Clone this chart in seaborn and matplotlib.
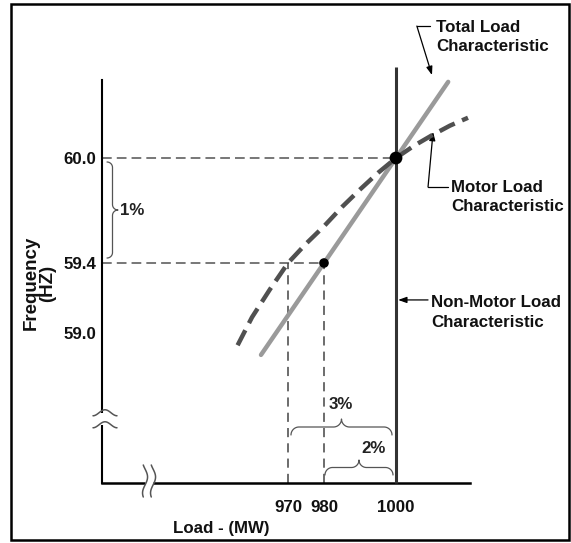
import numpy as np
import matplotlib
matplotlib.use("Agg")
import matplotlib.pyplot as plt
from matplotlib import font_manager
from matplotlib.patches import Rectangle
import seaborn as sns

# Operating points
nominal_load_mw = 1000
nominal_freq_hz = 60.0
reduced_freq_hz = 59.4
total_load_reduced_mw = 980
motor_load_reduced_mw = 970

# Total load characteristic (straight)
total_load_mw = [962.5, 980, 1000, 1014.5]
total_freq_hz = [58.875, 59.4, 60.0, 60.435]

# Motor load characteristic (curved)
motor_load_mw = [956, 960, 965, 970, 975, 980, 985, 990, 995, 1000, 1005, 1010, 1015, 1020]
motor_freq_hz = [58.93, 59.09, 59.25, 59.40, 59.51, 59.61, 59.72, 59.82, 59.915, 60.0,
                 60.07, 60.13, 60.185, 60.23]

x_ticks = [970, 980, 1000]
x_tick_labels = ["970", "980", "1000"]
y_ticks = [59.0, 59.4, 60.0]
y_tick_labels = ["59.0", "59.4", "60.0"]

sns.set_style("white")
available = {f.name for f in font_manager.fontManager.ttflist}
family = next(f for f in ["Liberation Sans Narrow", "Liberation Sans", "DejaVu Sans"]
              if f in available)
plt.rcParams["font.family"] = [family, "DejaVu Sans"]
narrow = family == "Liberation Sans Narrow"
FS = 14.5 if narrow else 12.2
FS_AXIS = 15 if narrow else 13.5

W, H = 571, 543
fig = plt.figure(figsize=(W / 100, H / 100), dpi=100)
fig.patch.set_facecolor("white")
ax = fig.add_axes([102 / W, 60 / H, 368 / W, 416 / H])
XMIN, XMAX = 918.33, 1020.56
YMIN, YMAX = 58.143, 60.52
ax.set_xlim(XMIN, XMAX)
ax.set_ylim(YMIN, YMAX)
ax.autoscale(False)
ax.set_facecolor("white")

for s in ["top", "right"]:
    ax.spines[s].set_visible(False)
ax.spines["left"].set_linewidth(1.5)
ax.spines["bottom"].set_linewidth(1.8)
ax.spines["left"].set_color("black")
ax.spines["bottom"].set_color("black")
ax.spines["left"].set_bounds(YMIN, 60.446)

ax.set_xticks(x_ticks, x_tick_labels)
ax.set_yticks(y_ticks, y_tick_labels)
ax.tick_params(axis="both", length=0, labelsize=FS, labelcolor="#111111")
ax.tick_params(axis="x", pad=12)
ax.tick_params(axis="y", pad=4)
for lbl in ax.get_xticklabels() + ax.get_yticklabels():
    lbl.set_fontweight("bold")

# Reference dashed lines to the operating points
ax.plot([XMIN, nominal_load_mw], [nominal_freq_hz] * 2, color="#777777", lw=1.4,
        dashes=(5, 2.6), zorder=1)
ax.plot([XMIN, total_load_reduced_mw], [reduced_freq_hz] * 2, color="#777777", lw=1.4,
        dashes=(5, 2.6), zorder=1)
ax.plot([motor_load_reduced_mw] * 2, [YMIN, reduced_freq_hz], color="#444444", lw=1.1,
        dashes=(6, 4), zorder=1)
ax.plot([total_load_reduced_mw] * 2, [YMIN, reduced_freq_hz], color="#444444", lw=1.1,
        dashes=(6, 4), zorder=1)

# Non-motor load characteristic: constant load
ax.plot([nominal_load_mw] * 2, [YMIN, YMAX], color="#333333", lw=2.2, zorder=3,
        solid_capstyle="butt", clip_on=False)

# Total and motor load characteristics
sns.lineplot(x=total_load_mw, y=total_freq_hz, ax=ax, color="#9a9a9a", lw=3.2,
             zorder=4, sort=False)
motor = sns.lineplot(x=motor_load_mw, y=motor_freq_hz, ax=ax, color="#505050", lw=3.2,
                     zorder=4, sort=False)
motor.lines[-1].set_dashes((3.8, 1.8))
motor.lines[-1].set_dash_capstyle("butt")

# Operating points
sns.scatterplot(x=[nominal_load_mw], y=[nominal_freq_hz], ax=ax, s=85, color="black",
                edgecolor="none", zorder=6)
sns.scatterplot(x=[total_load_reduced_mw], y=[reduced_freq_hz], ax=ax, s=48,
                color="black", edgecolor="none", zorder=6)
ax.set_xlabel("")
ax.set_ylabel("")

to_disp = ax.transData.transform
to_data = ax.transData.inverted().transform


def brace(p0, p1, r, n=30):
    p0 = np.asarray(p0, float)
    p1 = np.asarray(p1, float)
    d = p1 - p0
    L = np.hypot(*d)
    u = d / L
    v = np.array([-u[1], u[0]])
    t = np.linspace(0, np.pi / 2, n)
    a = np.c_[r - r * np.cos(t), r * np.sin(t)]
    b = np.c_[L / 2 - r + r * np.sin(t), 2 * r - r * np.cos(t)]
    half = np.vstack([a, b])
    other = np.c_[L - half[::-1, 0], half[::-1, 1]]
    local = np.vstack([half, other])
    pts = p0 + local[:, :1] * u + local[:, 1:] * v
    tip = p0 + (L / 2) * u + 2 * r * v
    return to_data(pts), tip


def draw_brace(p0, p1, r, label, label_off):
    pts, tip = brace(p0, p1, r)
    ax.plot(pts[:, 0], pts[:, 1], color="#555555", lw=0.9, clip_on=False, zorder=5)
    tx, ty = to_data(tip + np.asarray(label_off))
    ax.text(tx, ty, label, fontsize=FS, fontweight="bold", ha="center", va="center",
            color="#222222", clip_on=False)


base_970 = to_disp((motor_load_reduced_mw, YMIN))
base_980 = to_disp((total_load_reduced_mw, YMIN))
base_1000 = to_disp((nominal_load_mw, YMIN))
draw_brace(base_970 + (3, 48), base_1000 + (-4, 48), 8, "3%", (-1, 15))
draw_brace(base_980 + (1, 8), base_1000 + (-3, 8), 7.5, "2%", (15, 12))
top_1pct = to_disp((XMIN, nominal_freq_hz))
bot_1pct = to_disp((XMIN, reduced_freq_hz))
draw_brace(top_1pct + (5, -4), bot_1pct + (5, 5), 5.5, "1%", (14, 0))

# Axis break marks
ybreak = to_disp((XMIN, 58.51))
ax.plot(*to_data(np.array([ybreak + (0, -6), ybreak + (0, 6)])).T, color="white",
        lw=4, clip_on=False, zorder=7, solid_capstyle="butt")
for off in (-6, 6):
    s = np.linspace(-9, 15, 60)
    w = 3 * np.sin(2 * np.pi * (s + 3) / 24)
    d = to_data(np.c_[ybreak[0] + s, ybreak[1] + off + w])
    ax.plot(d[:, 0], d[:, 1], color="#555555", lw=1.1, clip_on=False, zorder=8)

xbreak = to_disp((931.4, YMIN))
ax.plot(*to_data(np.array([xbreak + (-4, 0), xbreak + (4, 0)])).T, color="white",
        lw=5, clip_on=False, zorder=7, solid_capstyle="butt")
for off in (-4, 4):
    s = np.linspace(-14, 18, 60)
    w = 2.5 * np.sin(2 * np.pi * (s + 2) / 32)
    d = to_data(np.c_[xbreak[0] + off + w, xbreak[1] + s])
    ax.plot(d[:, 0], d[:, 1], color="#555555", lw=1.1, clip_on=False, zorder=8)

# Callouts
arrow_kw = dict(arrowstyle="-|>,head_length=0.5,head_width=0.18", color="black",
                lw=0.9, shrinkA=0, shrinkB=0)
txt_kw = dict(fontsize=FS, fontweight="bold", ha="left", va="center",
              linespacing=1.35, color="#111111", annotation_clip=False)

ax.plot([1009.4, 1005.8], [60.754, 60.754], color="black", lw=0.9, clip_on=False)
ax.annotate("", xy=(1010.0, 60.474), xytext=(1005.8, 60.754), arrowprops=arrow_kw,
            annotation_clip=False)
ax.annotate("Total Load\nCharacteristic", xy=(1011.2, 60.69), **txt_kw)

ax.plot([1014.4, 1008.9], [59.834, 59.834], color="black", lw=0.9, clip_on=False)
ax.annotate("", xy=(1010.3, 60.149), xytext=(1008.9, 59.834), arrowprops=arrow_kw,
            annotation_clip=False)
ax.annotate("Motor Load\nCharacteristic", xy=(1015.4, 59.775), **txt_kw)

ax.annotate("", xy=(1000.6, 59.189), xytext=(1008.9, 59.189), arrowprops=arrow_kw,
            annotation_clip=False)
ax.annotate("Non-Motor Load\nCharacteristic", xy=(1009.8, 59.117), **txt_kw)

fig.text(39 / W, 1 - 283 / H, "Frequency\n(HZ)", rotation=90, ha="center", va="center",
         fontsize=FS_AXIS, fontweight="bold", linespacing=0.95, multialignment="center",
         color="#111111")
fig.text(221 / W, 1 - 529 / H, "Load - (MW)", ha="center", va="center", fontsize=FS,
         fontweight="bold", color="#111111")

fig.add_artist(Rectangle((11 / W, 3 / H), 558 / W, 536 / H, transform=fig.transFigure,
                         fill=False, edgecolor="black", lw=1.8))

fig.savefig("out.png", dpi=100, facecolor="white")
